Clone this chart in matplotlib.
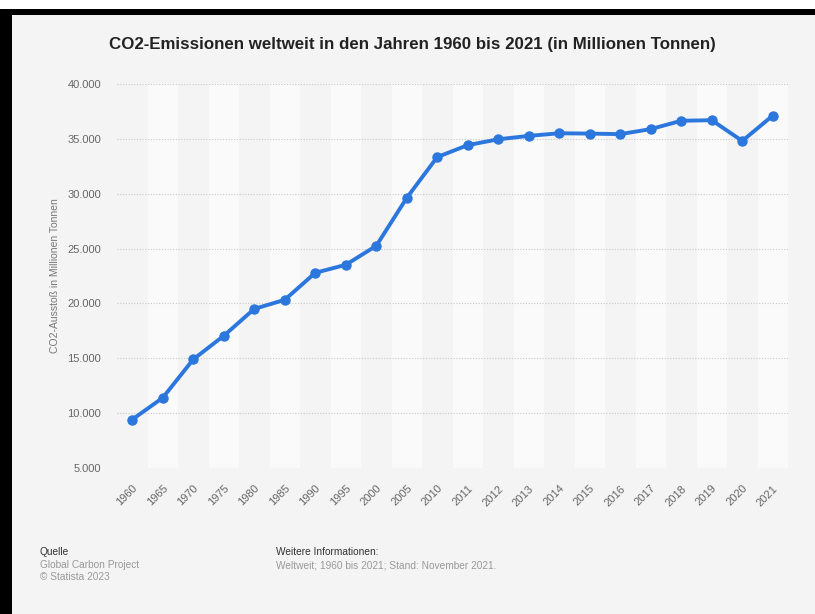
import matplotlib.pyplot as plt
from matplotlib.patches import Rectangle
from matplotlib.ticker import FuncFormatter

plt.rcParams["font.family"] = ["Liberation Sans", "DejaVu Sans"]

years = ["1960", "1965", "1970", "1975", "1980", "1985", "1990", "1995", "2000",
         "2005", "2010", "2011", "2012", "2013", "2014", "2015", "2016", "2017",
         "2018", "2019", "2020", "2021"]
emissions = [9420, 11400, 14900, 17050, 19500, 20330, 22790, 23520, 25250,
             29620, 33340, 34430, 34960, 35270, 35510, 35480, 35430, 35890,
             36650, 36700, 34810, 37120]
y_ticks = [5000, 10000, 15000, 20000, 25000, 30000, 35000, 40000]

bg = "#f4f4f4"
fig = plt.figure(figsize=(8.15, 6.14), dpi=100, facecolor=bg)

# frame: white strip at top, black bars top and left
fig.patches.append(Rectangle((0, 1 - 9 / 614), 1, 9 / 614, transform=fig.transFigure,
                             facecolor="white", edgecolor="none", zorder=0))
fig.patches.append(Rectangle((0, 1 - 15 / 614), 1, 6 / 614, transform=fig.transFigure,
                             facecolor="black", edgecolor="none", zorder=0))
fig.patches.append(Rectangle((0, 0), 12 / 815, 1 - 9 / 614, transform=fig.transFigure,
                             facecolor="black", edgecolor="none", zorder=0))

ax = fig.add_axes([117 / 815, 1 - 468 / 614, 671 / 815, 384 / 614])
ax.set_facecolor(bg)
x = list(range(len(years)))

# alternating column bands
for i in x:
    if i % 2 == 1:
        ax.axvspan(i - 0.5, i + 0.5, color="#fafafa", zorder=0, lw=0)

ax.plot(x, emissions, color="#2b77dd", lw=2.8, marker="o", ms=6.5,
        solid_capstyle="round", zorder=3)

ax.set_xlim(-0.5, len(years) - 0.5)
ax.set_ylim(5000, 40000)
ax.set_yticks(y_ticks)
ax.yaxis.set_major_formatter(FuncFormatter(lambda v, _: f"{int(v):,}".replace(",", ".")))
ax.set_xticks(x)
ax.set_xticklabels(years, rotation=45, ha="right", va="top", rotation_mode="anchor")
ax.grid(axis="y", linestyle=(0, (1, 1.5)), color="#c8c8c8", lw=0.8, zorder=1)
ax.tick_params(length=0, labelsize=8, colors="#666666")
ax.tick_params(axis="y", pad=11.5)
ax.tick_params(axis="x", pad=11)
for s in ax.spines.values():
    s.set_visible(False)

ax.set_ylabel("CO2-Ausstoß in Millionen Tonnen", fontsize=7.5, color="#777777", labelpad=5)

fig.text(412 / 815, 1 - 44 / 614, "CO2-Emissionen weltweit in den Jahren 1960 bis 2021 (in Millionen Tonnen)",
         ha="center", va="center", fontsize=12.2, fontweight="bold", color="#222222")

fig.text(40 / 815, 1 - 552 / 614, "Quelle", fontsize=7.25, color="#333333", va="center")
fig.text(40 / 815, 1 - 565 / 614, "Global Carbon Project", fontsize=7.25, color="#999999", va="center")
fig.text(40 / 815, 1 - 577 / 614, "© Statista 2023", fontsize=7.25, color="#999999", va="center")
fig.text(276 / 815, 1 - 552 / 614, "Weitere Informationen:", fontsize=7.25, color="#333333", va="center")
fig.text(276 / 815, 1 - 565 / 614, "Weltweit; 1960 bis 2021; Stand: November 2021.",
         fontsize=7.25, color="#999999", va="center")

fig.savefig("out.png", dpi=100, facecolor=bg)
